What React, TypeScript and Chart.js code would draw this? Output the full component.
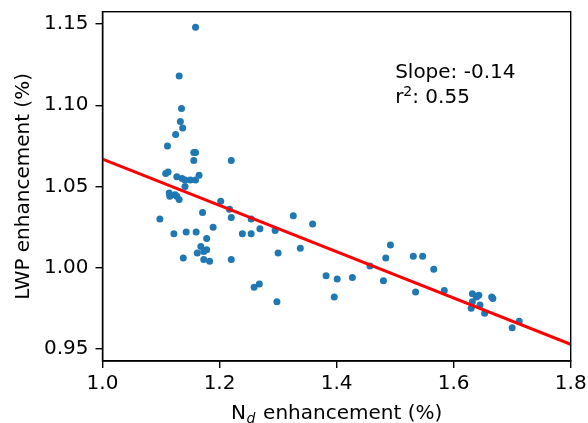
import React, { useEffect, useRef } from "react";
import { Chart, registerables } from "chart.js";

Chart.register(...registerables);

// N_d enhancement (x) and LWP enhancement (y) for each point
const xVals = [
  1.159, 1.131, 1.135, 1.133, 1.137, 1.125, 1.111, 1.156, 1.159, 1.156,
  1.220, 1.108, 1.112, 1.127, 1.136, 1.141, 1.150, 1.159, 1.165, 1.141,
  1.114, 1.115, 1.124, 1.127, 1.131, 1.202, 1.171, 1.217, 1.220, 1.254,
  1.326, 1.359, 1.098, 1.122, 1.143, 1.160, 1.189, 1.239, 1.254, 1.269,
  1.295, 1.178, 1.168, 1.178, 1.173, 1.162, 1.300, 1.338, 1.138, 1.173,
  1.183, 1.220, 1.259, 1.268, 1.298, 1.382, 1.401, 1.396, 1.427, 1.457,
  1.484, 1.492, 1.480, 1.531, 1.547, 1.566, 1.535, 1.584, 1.632, 1.643,
  1.639, 1.665, 1.667, 1.632, 1.645, 1.630, 1.653, 1.712, 1.700,
];
const yVals = [
  1.148, 1.118, 1.098, 1.090, 1.086, 1.082, 1.075, 1.071, 1.071, 1.066,
  1.066, 1.058, 1.059, 1.056, 1.055, 1.054, 1.054, 1.054, 1.057, 1.050,
  1.046, 1.044, 1.045, 1.044, 1.042, 1.041, 1.034, 1.036, 1.031, 1.030,
  1.032, 1.027, 1.030, 1.021, 1.022, 1.022, 1.025, 1.021, 1.021, 1.024,
  1.023, 1.018, 1.013, 1.011, 1.010, 1.009, 1.009, 1.012, 1.006, 1.005,
  1.004, 1.005, 0.988, 0.990, 0.979, 0.995, 0.993, 0.982, 0.994, 1.001,
  1.006, 1.014, 0.992, 1.007, 1.007, 0.999, 0.985, 0.986, 0.984, 0.983,
  0.982, 0.982, 0.981, 0.979, 0.977, 0.975, 0.972, 0.967, 0.963,
];

// regression line end points
const fitX = [1.0, 1.8];
const fitY = [1.0669, 0.9529];

const xTicks = [1.0, 1.2, 1.4, 1.6, 1.8];
const yTicks = [0.95, 1.0, 1.05, 1.1, 1.15];

const slopeText = "Slope: -0.14";
const r2Value = ": 0.55";
const xTitle = ["N", "d", " enhancement (%)"];
const yTitle = "LWP enhancement (%)";

const FONT = "'DejaVu Sans', sans-serif";
const FS = 20;

const decorPlugin = {
  id: "decor",
  afterDraw(chart: any) {
    const ctx = chart.ctx;
    const a = chart.chartArea;
    const xs = chart.scales.x;
    const ys = chart.scales.y;
    ctx.save();
    // frame
    ctx.strokeStyle = "#000";
    ctx.lineWidth = 1.4;
    ctx.strokeRect(a.left, a.top, a.right - a.left, a.bottom - a.top);

    ctx.fillStyle = "#000";
    ctx.textBaseline = "alphabetic";
    // annotation
    const ax = xs.getPixelForValue(1.5);
    const ay = ys.getPixelForValue(1.1);
    ctx.font = `${FS}px ${FONT}`;
    ctx.textAlign = "left";
    ctx.fillText(slopeText, ax, ay - 27);
    ctx.fillText("r", ax, ay - 2);
    const rw = ctx.measureText("r").width;
    ctx.font = `${FS * 0.7}px ${FONT}`;
    ctx.fillText("2", ax + rw, ay - 9.5);
    const sw = ctx.measureText("2").width;
    ctx.font = `${FS}px ${FONT}`;
    ctx.fillText(r2Value, ax + rw + sw, ay - 2);

    // x title with subscript
    ctx.font = `${FS}px ${FONT}`;
    const w1 = ctx.measureText(xTitle[0]).width;
    const w3 = ctx.measureText(xTitle[2]).width;
    ctx.font = `italic ${FS * 0.7}px ${FONT}`;
    const w2 = ctx.measureText(xTitle[1]).width + 2;
    const total = w1 + w2 + w3;
    const cx = (a.left + a.right) / 2;
    let px = cx - total / 2;
    const by = 419;
    ctx.font = `${FS}px ${FONT}`;
    ctx.fillText(xTitle[0], px, by);
    px += w1 + 0.5;
    ctx.font = `italic ${FS * 0.7}px ${FONT}`;
    ctx.fillText(xTitle[1], px, by + 3.5);
    px += w2 - 0.5;
    ctx.font = `${FS}px ${FONT}`;
    ctx.fillText(xTitle[2], px, by);

    // y title
    ctx.translate(28.5, (a.top + a.bottom) / 2);
    ctx.rotate(-Math.PI / 2);
    ctx.textAlign = "center";
    ctx.fillText(yTitle, 0, 0);
    ctx.restore();
  },
};

const zeroPad = (s: any) => {
  s.paddingLeft = 0;
  s.paddingRight = 0;
  s.paddingTop = 0;
  s.paddingBottom = 0;
};

export default function App() {
  const ref = useRef<HTMLCanvasElement | null>(null);
  useEffect(() => {
    if (!ref.current) return;
    const points = xVals.map((x, i) => ({ x, y: yVals[i] }));
    const line = fitX.map((x, i) => ({ x, y: fitY[i] }));
    const chart = new Chart(ref.current, {
      type: "scatter",
      data: {
        datasets: [
          {
            type: "line",
            data: line,
            borderColor: "#ff0000",
            borderWidth: 3,
            pointRadius: 0,
            showLine: true,
            fill: false,
            order: 0,
          } as any,
          {
            data: points,
            backgroundColor: "#1f77b4",
            borderWidth: 0,
            pointRadius: 3.5,
            order: 1,
          },
        ],
      },
      options: {
        responsive: false,
        animation: false,
        devicePixelRatio: 1,
        layout: { padding: { left: 0, top: 11.7, right: 17.3, bottom: 0 } },
        plugins: { legend: { display: false }, tooltip: { enabled: false } },
        scales: {
          x: {
            type: "linear",
            min: 1.0,
            max: 1.8,
            afterBuildTicks: (s: any) => {
              s.ticks = xTicks.map((v) => ({ value: v }));
            },
            afterFit: (s: any) => {
              s.height = 62;
              zeroPad(s);
            },
            grid: {
              drawOnChartArea: false,
              drawTicks: true,
              tickLength: 7,
              color: "#000",
              lineWidth: 1.4,
            },
            border: { display: true, color: "#000", width: 1.4 },
            ticks: {
              padding: 4,
              color: "#000",
              font: { family: FONT, size: FS },
              maxRotation: 0,
              callback: (v: any) => Number(v).toFixed(1),
            },
          },
          y: {
            type: "linear",
            min: 0.9426,
            max: 1.1576,
            afterBuildTicks: (s: any) => {
              s.ticks = yTicks.map((v) => ({ value: v }));
            },
            afterFit: (s: any) => {
              s.width = 102.5;
              zeroPad(s);
            },
            grid: {
              drawOnChartArea: false,
              drawTicks: true,
              tickLength: 7,
              color: "#000",
              lineWidth: 1.4,
            },
            border: { display: true, color: "#000", width: 1.4 },
            ticks: {
              padding: 7,
              color: "#000",
              font: { family: FONT, size: FS },
              callback: (v: any) => Number(v).toFixed(2),
            },
          },
        },
      },
      plugins: [decorPlugin],
    });
    return () => chart.destroy();
  }, []);
  return (
    <div style={{ position: "absolute", left: 0, top: 0, width: 588, height: 423, background: "#fff" }}>
      <canvas ref={ref} width={588} height={423} style={{ width: 588, height: 423 }} />
    </div>
  );
}
